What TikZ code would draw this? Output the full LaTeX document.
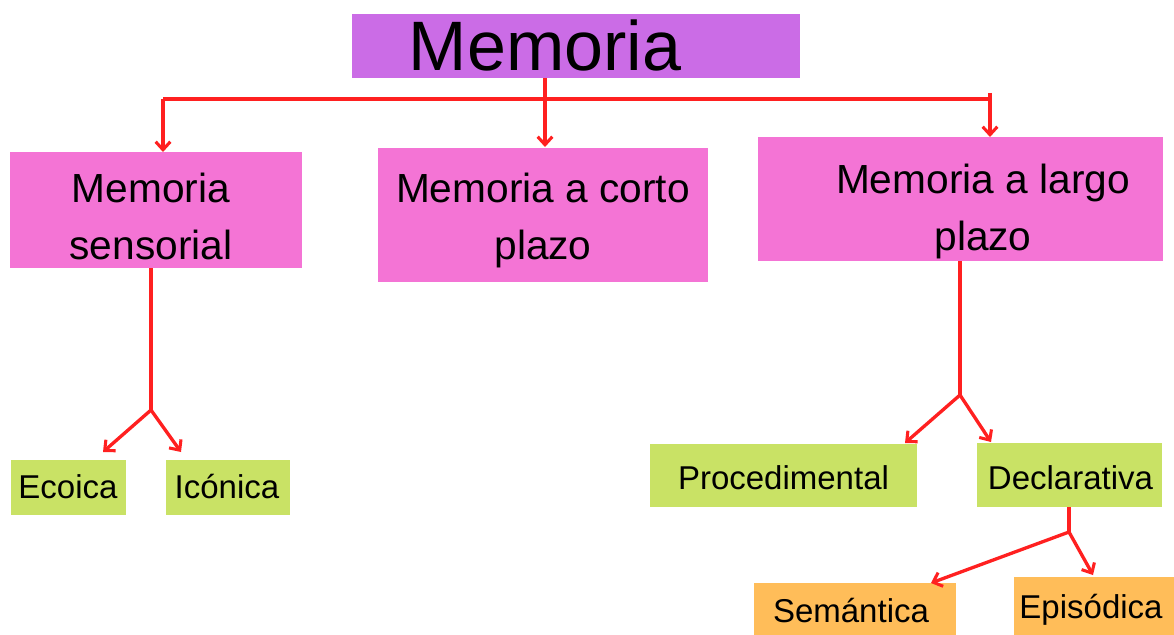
\documentclass[tikz,border=0pt]{standalone}
\usepackage{fontspec}
\setmainfont{Liberation Sans}
\usetikzlibrary{arrows.meta}
\definecolor{cpurple}{HTML}{CB6CE6}
\definecolor{cpink}{HTML}{F474D5}
\definecolor{cgreen}{HTML}{C9E265}
\definecolor{corange}{HTML}{FFBD59}
\definecolor{cred}{HTML}{FF2020}
\begin{document}
\begin{tikzpicture}[x=0.75pt,y=-0.75pt]
\tikzset{
  box/.style={draw=none, inner sep=0pt, outer sep=0pt},
  conn/.style={draw=cred, line width=2.5pt},
  arr/.style={conn, -{Straight Barb[length=6pt,width=11pt,line width=2.3pt]}},
  bigtxt/.style={inner sep=0pt, anchor=base, align=center, font=\fontsize{30.5}{42.75}\selectfont},
  smalltxt/.style={inner sep=0pt, anchor=base, font=\fontsize{24.75}{30}\selectfont},
}
\useasboundingbox (0,0) rectangle (1174,635);
% boxes
\node[box, fill=cpurple, minimum width=336pt, minimum height=48pt] (mem) at (576,46) {};
\node[box, fill=cpink, minimum width=219pt, minimum height=87pt] (sen) at (156,210) {};
\node[box, fill=cpink, minimum width=247.5pt, minimum height=100.5pt] (cor) at (543,215) {};
\node[box, fill=cpink, minimum width=303.75pt, minimum height=93pt] (lar) at (960.5,199) {};
\node[box, fill=cgreen, minimum width=86.25pt, minimum height=41.25pt] (eco) at (68.5,487.5) {};
\node[box, fill=cgreen, minimum width=93pt, minimum height=41.25pt] (ico) at (228,487.5) {};
\node[box, fill=cgreen, minimum width=200.25pt, minimum height=47.25pt] (pro) at (783.5,475.5) {};
\node[box, fill=cgreen, minimum width=138.75pt, minimum height=48pt] (dec) at (1069.5,475) {};
\node[box, fill=corange, minimum width=151.5pt, minimum height=39pt] (sem) at (855,609) {};
\node[box, fill=corange, minimum width=120pt, minimum height=43.5pt] (epi) at (1094,606) {};
% texts
\node[inner sep=0pt, anchor=base, font=\fontsize{52.5}{60}\selectfont] (tmem) at (545,71) {Memoria};
\node[bigtxt] (tsen) at (151,259) {Memoria\\sensorial};
\node[bigtxt] (tcor) at (543,259) {Memoria a corto\\plazo};
\node[bigtxt] (tlar) at (983,250) {Memoria a largo\\plazo};
\node[smalltxt] (teco) at (68,498) {Ecoica};
\node[smalltxt] (tico) at (227,498) {Icónica};
\node[smalltxt] (tpro) at (783.5,489) {Procedimental};
\node[smalltxt] (tdec) at (1070.5,489) {Declarativa};
\node[smalltxt] (tsem) at (851,622) {Semántica};
\node[smalltxt] (tepi) at (1091,618) {Episódica};
% junction coordinates
\coordinate (jtop) at (545,99);
\coordinate (jl) at (163,99);
\coordinate (jr) at (990,99);
\coordinate (jrt) at (990,93);
\coordinate (tipsen) at (163,152);
\coordinate (tipcor) at (545,147);
\coordinate (tiplar) at (990,137);
\coordinate (jsen) at (151,410);
\coordinate (tipeco) at (103,452);
\coordinate (tipico) at (181,452);
\coordinate (jlar) at (960,395);
\coordinate (tippro) at (905,443);
\coordinate (tipdec) at (991,442);
\coordinate (jdec) at (1069,532);
\coordinate (tipsem) at (931,583);
\coordinate (tipepi) at (1093,575);
% connectors
\draw[conn] (jl) -- (jr);
\draw[arr] (mem.south -| jtop) -- (tipcor);
\draw[arr] (jl) -- (tipsen);
\draw[arr] (jrt) -- (tiplar);
\draw[conn] (sen.south -| jsen) -- (jsen);
\draw[arr] (jsen) -- (tipeco);
\draw[arr] (jsen) -- (tipico);
\draw[conn] (lar.south -| jlar) -- (jlar);
\draw[arr] (jlar) -- (tippro);
\draw[arr] (jlar) -- (tipdec);
\draw[conn] (dec.south -| jdec) -- (jdec);
\draw[arr] (jdec) -- (tipsem);
\draw[arr] (jdec) -- (tipepi);
\end{tikzpicture}
\end{document}
